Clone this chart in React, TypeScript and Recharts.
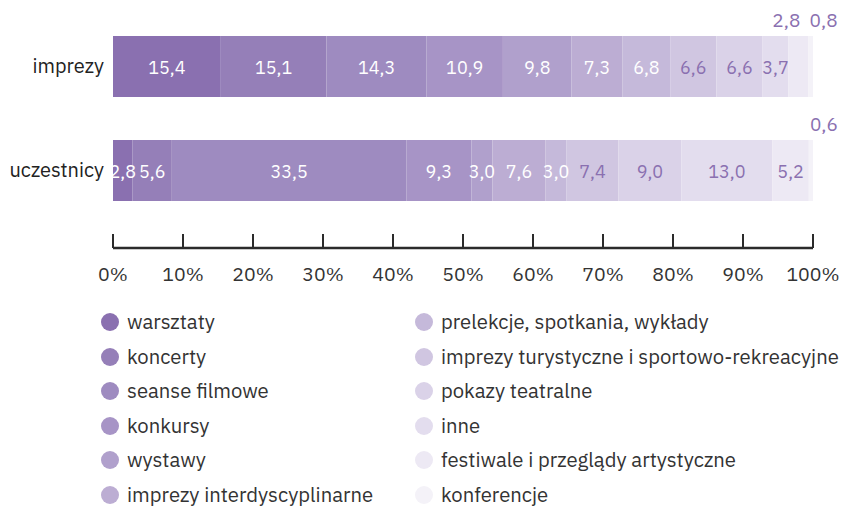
import { BarChart, Bar, XAxis, YAxis, Legend, LabelList } from "recharts";

const CATEGORIES = ["imprezy", "uczestnicy"];

const SERIES = [
  "warsztaty",
  "koncerty",
  "seanse filmowe",
  "konkursy",
  "wystawy",
  "imprezy interdyscyplinarne",
  "prelekcje, spotkania, wykłady",
  "imprezy turystyczne i sportowo-rekreacyjne",
  "pokazy teatralne",
  "inne",
  "festiwale i przeglądy artystyczne",
  "konferencje",
];

// shares in %, same order as SERIES
const IMPREZY = [15.4, 15.1, 14.3, 10.9, 9.8, 7.3, 6.8, 6.6, 6.6, 3.7, 2.8, 0.8];
const UCZESTNICY = [2.8, 5.6, 33.5, 9.3, 3.0, 7.6, 3.0, 7.4, 9.0, 13.0, 5.2, 0.6];

const TICKS = [0, 10, 20, 30, 40, 50, 60, 70, 80, 90, 100];

// light-to-dark purple scale
const COLORS = [
  "#8a70b0",
  "#957fb8",
  "#9e8bc0",
  "#a794c6",
  "#b0a0cc",
  "#bcadd3",
  "#c5b9da",
  "#d0c6e1",
  "#dad2e8",
  "#e3ddee",
  "#ede9f4",
  "#f4f2f8",
];

const FONT = "'IBM Plex Sans', Inter, 'Open Sans', sans-serif";
const PURPLE = "#8a70b0";

const chartData = CATEGORIES.map((name, ci) => {
  const values = ci === 0 ? IMPREZY : UCZESTNICY;
  const row: Record<string, string | number> = { name };
  SERIES.forEach((s, i) => {
    row[s] = values[i];
  });
  return row;
});

const fmt = (v: number) => v.toFixed(1).replace(".", ",");

function makeLabel(seriesIdx: number) {
  return (props: any) => {
    const { x, y, width, height, value } = props;
    const v = Number(value);
    const cx = Number(x) + Number(width) / 2;
    const cy = Number(y) + Number(height) / 2;
    // tiny end segments get their label above the bar
    if (seriesIdx >= 10 && v < 3) {
      const dx = seriesIdx === 10 ? -12 : 13;
      return (
        <text
          x={cx + dx}
          y={Number(y) - 16}
          textAnchor="middle"
          dominantBaseline="central"
          fill={PURPLE}
          fontSize={19}
          fontFamily={FONT}
        >
          {fmt(v)}
        </text>
      );
    }
    return (
      <text
        x={cx}
        y={cy + 1}
        textAnchor="middle"
        dominantBaseline="central"
        fill={seriesIdx < 7 ? "#ffffff" : PURPLE}
        fontSize={18}
        fontFamily={FONT}
      >
        {fmt(v)}
      </text>
    );
  };
}

function XTick(props: any) {
  const { x, y, payload } = props;
  return (
    <g>
      <line x1={x} x2={x} y1={y - 14} y2={y} stroke="#2b2b2b" strokeWidth={2} />
      <text
        x={x}
        y={y + 25}
        textAnchor="middle"
        dominantBaseline="central"
        fill="#333"
        fontSize={19.5}
        fontFamily={FONT}
      >
        {payload.value}%
      </text>
    </g>
  );
}

function renderLegend() {
  const col1 = SERIES.slice(0, 6);
  const col2 = SERIES.slice(6);
  const item = (s: string, i: number, last: boolean) => (
    <div
      key={s}
      style={{
        display: "flex",
        alignItems: "center",
        height: 24,
        marginBottom: last ? 0 : 10.6,
        whiteSpace: "nowrap",
      }}
    >
      <span
        style={{
          width: 18,
          height: 18,
          borderRadius: "50%",
          background: COLORS[i],
          display: "inline-block",
          marginRight: 8,
        }}
      />
      <span style={{ fontSize: 20.3, lineHeight: "24px", color: "#333", fontFamily: FONT }}>
        {s}
      </span>
    </div>
  );
  return (
    <div style={{ position: "relative", height: 219 }}>
      <div style={{ position: "absolute", left: 101, top: 22 }}>
        {col1.map((s, i) => item(s, i, i === 5))}
      </div>
      <div style={{ position: "absolute", left: 415, top: 22 }}>
        {col2.map((s, i) => item(s, i + 6, i === 5))}
      </div>
    </div>
  );
}

export default function App() {
  return (
    <div style={{ position: "absolute", left: 0, top: 0, background: "#fff" }}>
      <BarChart
        width={841}
        height={507}
        data={chartData}
        layout="vertical"
        margin={{ top: 14, right: 28, bottom: 0, left: 0 }}
      >
        <XAxis
          type="number"
          domain={[0, 100]}
          ticks={TICKS}
          allowDataOverflow
          height={40}
          tickLine={false}
          tickSize={0}
          tickMargin={0}
          axisLine={{ stroke: "#2b2b2b", strokeWidth: 2.5 }}
          tick={<XTick />}
          interval={0}
        />
        <YAxis
          type="category"
          dataKey="name"
          width={113}
          axisLine={false}
          tickLine={false}
          tickSize={0}
          tickMargin={9}
          padding={{ top: 0, bottom: 26 }}
          tick={{ fill: "#222", fontSize: 20, fontFamily: FONT }}
        />
        <Legend
          verticalAlign="bottom"
          align="left"
          height={219}
          content={renderLegend}
          wrapperStyle={{ left: 0, width: 841 }}
        />
        {SERIES.map((s, i) => (
          <Bar
            key={s}
            dataKey={s}
            stackId="a"
            fill={COLORS[i]}
            barSize={61}
            isAnimationActive={false}
          >
            <LabelList dataKey={s} content={makeLabel(i)} />
          </Bar>
        ))}
      </BarChart>
    </div>
  );
}
